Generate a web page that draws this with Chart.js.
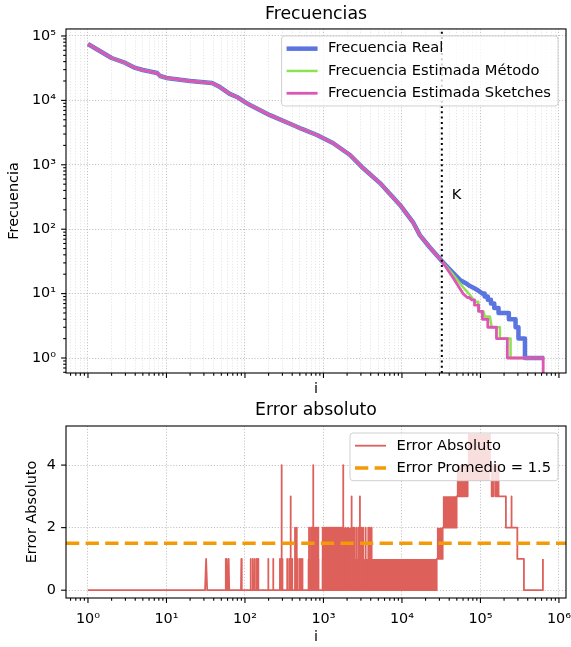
<!DOCTYPE html>
<html>
<head>
<meta charset="utf-8">
<title>Frecuencias / Error absoluto</title>
<script src="https://cdn.jsdelivr.net/npm/chart.js"></script>
<style>
  body { margin: 0; background: #fff; }
  .box { position: absolute; left: 0; width: 571px; }
</style>
</head>
<body>
<div class="box" style="top:0;height:400px"><canvas id="frecuencias" width="571" height="400"></canvas></div>
<div class="box" style="top:400px;height:247px"><canvas id="error" width="571" height="247"></canvas></div>
<script>
// axis ranges
const X_MIN = 0.525, X_MAX = 1.23e6;
const FREQ_MIN = 0.585, FREQ_MAX = 1.285e5;
const ERR_MIN = -0.25, ERR_MAX = 5.25;
const K = 32200;
const ERROR_MEAN = 1.5;

const decadeValues = [1, 10, 100, 1000, 10000, 100000, 1000000];
const decadeLabels = ['10⁰', '10¹', '10²', '10³', '10⁴', '10⁵', '10⁶'];
const errTickValues = [0, 2, 4];
const errTickLabels = ['0', '2', '4'];

// rank i / frequency, common to the three series up to K
const headI = [1, 2, 3, 4, 5, 7.6, 8.3, 10, 20, 38, 48, 64, 79, 100, 116, 208, 408, 532, 826, 1320, 2180, 3190, 5250, 9440, 13800, 16900, 22700, 32200];
const headF = [75000, 45500, 38100, 31900, 29600, 26600, 23900, 22300, 20000, 18600, 16100, 12600, 11300, 9400, 8500, 5900, 4150, 3600, 2900, 2180, 1420, 890, 520, 238, 129, 81, 52, 32];

// tails after K
const realTailI = [38000, 45000, 54800, 65000, 73500, 85000, 98600, 106000, 113000, 113000, 124000, 124000, 136000, 136000, 150000, 150000, 170000, 170000, 230000, 230000, 280000, 280000, 305000, 305000, 369000, 369000, 650000];
const realTailF = [25.9, 20.9, 16.3, 14.5, 13.1, 12, 10.7, 10, 10, 9, 9, 8, 8, 7, 7, 6, 6, 5, 5, 4, 4, 3, 3, 2, 2, 1, 1];
const metodoTailI = [37000, 45000, 54800, 64000, 73500, 85200, 93800, 93800, 109000, 114000, 132000, 139000, 177000, 177000, 242000, 242000, 650000];
const metodoTailF = [26, 19.5, 14.5, 11.5, 9.5, 7.5, 7.5, 5.3, 5.3, 4.4, 4.4, 3, 3, 2, 2, 1, 1];
const sketchTailI = [45000, 60000, 68000, 72000, 77000, 84000, 84000, 95000, 95000, 106000, 106000, 124000, 124000, 160000, 160000, 220000, 220000, 630000, 630000, 650000];
const sketchTailF = [17.5, 10, 8.7, 8.7, 8, 8, 6.6, 6.6, 5.3, 5.3, 4, 4, 3, 3, 2, 2, 1, 1, 0, 0];

// absolute error: isolated spikes (position, height)
const spikeI = [32, 57, 59, 62, 90, 118, 126, 133, 141, 147, 198, 229, 279, 293, 300, 345, 366, 382, 400, 434, 446, 457, 470, 500, 515, 540,
  655, 693, 705, 720, 741, 760, 790, 819, 840, 860, 977, 1000, 1030, 1077, 1100, 1130, 1160, 1187, 1210, 1240, 1283, 1300, 1330, 1374, 1420,
  1450, 1472, 1500, 1550, 1580, 1623, 1660, 1700, 1787, 1918, 2070, 2284,
  2400, 2500, 2650, 2810, 2915, 3050, 3215, 3450, 3724, 3900, 4110];
const spikeV = [1, 1, 1, 1, 1, 1, 1, 1, 1, 1, 1, 1, 1, 4, 1, 1, 1, 3, 1, 2, 1, 2, 1, 1, 1, 1,
  2, 2, 2, 2, 4, 2, 2, 2, 2, 2, 2, 2, 2, 2, 2, 2, 2, 2, 2, 2, 2, 2, 2, 2, 2,
  2, 2, 2, 2, 2, 2, 2, 2, 4, 2, 2, 3,
  2, 2, 2, 2, 3, 2, 2, 2, 2, 2, 2];
// regions where the error flips so fast that it reads as a solid band
const bandFrom = [625, 948, 1760, 27700, 33000, 49700, 68700];
const bandTo = [890, 27700, 2380, 33000, 49700, 68700, 132000];
const bandLow = [0, 0, 1, 1, 2, 3, 3.5];
const bandHigh = [1, 1, 2, 2, 3, 4, 5];
// stepped part at the end
const stepI = [27700, 27700, 33000, 33000, 49700, 49700, 68700, 68700, 132000, 132000, 132000, 139000, 139000, 146000, 146000, 155000, 155000, 163000, 163000, 170000, 170000, 211000, 211000, 247000, 247000, 250000, 250000, 295000, 295000, 358000, 358000, 625000, 625000];
const stepV = [0, 1, 1, 2, 2, 3, 3, 4, 4, 5, 4, 4, 3, 3, 4, 4, 3, 3, 4, 4, 3, 3, 2, 2, 3, 3, 2, 2, 1, 1, 0, 0, 1];

const BLUE = '#5a74e0', GREEN = '#8ee152', PINK = '#de56b4', RED = '#dd605a', ORANGE = '#f29b06';
const GRID_MAJOR = '#b0b0b0', GRID_MINOR = '#dddddd';
const LEGEND_FONT = '14.7px "DejaVu Sans"';

Chart.defaults.font.family = '"DejaVu Sans", sans-serif';
Chart.defaults.font.size = 14.4;
Chart.defaults.color = '#000';

const pts = (xs, ys) => xs.map((x, k) => ({ x, y: ys[k] }));
const logSafe = p => ({ x: p.x, y: p.y > 0 ? p.y : FREQ_MIN / 10 });

function logTicks(min, max) {
  const out = [];
  for (let e = -1; e <= 6; e++) {
    for (let m = 1; m <= 9; m++) {
      const v = m * Math.pow(10, e);
      if (v >= min && v <= max) out.push({ value: v, major: m === 1 });
    }
  }
  return out;
}
function decadeLabel(v) {
  const k = decadeValues.findIndex(d => Math.abs(d - v) < d * 1e-9);
  return k < 0 ? '' : decadeLabels[k];
}
// keep the plot area fixed, labels may overhang
function fixX(h) {
  return s => { s.height = h; s.paddingLeft = 0; s.paddingRight = 0; };
}
function fixY(s) { s.width = 66; s.paddingTop = 0; s.paddingBottom = 0; }

// ticks outside + the four spines
const frame = {
  id: 'frame',
  afterDraw(chart) {
    const { ctx, chartArea: a } = chart;
    ctx.save();
    ctx.strokeStyle = '#000';
    ctx.lineWidth = 1.1;
    const xs = chart.scales.x, ys = chart.scales.y;
    xs.ticks.forEach(t => {
      const p = xs.getPixelForValue(t.value);
      ctx.beginPath(); ctx.moveTo(p, a.bottom); ctx.lineTo(p, a.bottom + (t.major ? 4.9 : 2.8)); ctx.stroke();
    });
    ys.ticks.forEach(t => {
      const p = ys.getPixelForValue(t.value);
      ctx.beginPath(); ctx.moveTo(a.left, p); ctx.lineTo(a.left - (t.major ? 4.9 : 2.8), p); ctx.stroke();
    });
    ctx.strokeRect(a.left, a.top, a.right - a.left, a.bottom - a.top);
    ctx.restore();
  }
};

// matplotlib style boxed legend in the upper right corner
const boxLegend = {
  id: 'boxLegend',
  afterDatasetsDraw(chart) {
    const { ctx, chartArea: a } = chart;
    const items = chart.data.datasets.filter(d => d.inLegend);
    const note = chart.options.plugins.boxLegend;
    ctx.save();
    ctx.font = LEGEND_FONT;
    ctx.textBaseline = 'middle';
    if (note && note.text) {
      ctx.fillStyle = '#000';
      ctx.fillText(note.text, chart.scales.x.getPixelForValue(note.x) + 10, chart.scales.y.getPixelForValue(note.y));
    }
    const textW = Math.max(...items.map(d => ctx.measureText(d.label).width));
    const pad = 5, handle = 31, gap = 10.5, rowH = 22.3, first = 12.7;
    const w = pad + handle + gap + textW + 7;
    const h = first * 2 + rowH * (items.length - 1);
    const x0 = a.right - 8 - w, y0 = a.top + 7;
    ctx.beginPath();
    ctx.roundRect(x0, y0, w, h, 3);
    ctx.fillStyle = 'rgba(255,255,255,0.8)';
    ctx.fill();
    ctx.strokeStyle = '#d0d0d0';
    ctx.lineWidth = 1;
    ctx.stroke();
    items.forEach((d, k) => {
      const y = y0 + first + k * rowH;
      ctx.strokeStyle = d.borderColor;
      ctx.lineWidth = d.borderWidth;
      ctx.setLineDash(d.borderDash || []);
      ctx.beginPath(); ctx.moveTo(x0 + pad, y); ctx.lineTo(x0 + pad + handle, y); ctx.stroke();
      ctx.setLineDash([]);
      ctx.fillStyle = '#000';
      ctx.fillText(d.label, x0 + pad + handle + gap, y);
    });
    ctx.restore();
  }
};

function lineSet(label, data, color, width, order, extra) {
  return Object.assign({
    label, data, borderColor: color, borderWidth: width, order,
    pointRadius: 0, tension: 0, fill: false, borderJoinStyle: 'round', inLegend: true
  }, extra || {});
}

// ---------- top chart ----------
const head = pts(headI, headF);
new Chart(document.getElementById('frecuencias'), {
  type: 'line',
  data: {
    datasets: [
      lineSet('Frecuencia Real', head.concat(pts(realTailI, realTailF)), BLUE, 4.5, 3),
      lineSet('Frecuencia Estimada Método', head.concat(pts(metodoTailI, metodoTailF)), GREEN, 2.5, 2),
      lineSet('Frecuencia Estimada Sketches', head.concat(pts(sketchTailI, sketchTailF)).map(logSafe), PINK, 2.8, 1),
      lineSet('K', [{ x: K, y: FREQ_MIN }, { x: K, y: FREQ_MAX }], '#000', 2, 0, { borderDash: [2, 3.3], inLegend: false })
    ]
  },
  options: {
    responsive: false, animation: false,
    layout: { padding: { left: 0, right: 5, top: 0, bottom: 0 } },
    plugins: {
      legend: { display: false }, tooltip: { enabled: false },
      title: { display: true, text: 'Frecuencias', fullSize: false, font: { size: 17.3, weight: 'normal' }, padding: { top: 4.6, bottom: 3.6 } },
      boxLegend: { text: 'K', x: K, y: 340 }
    },
    scales: {
      x: {
        type: 'logarithmic', min: X_MIN, max: X_MAX,
        afterBuildTicks: s => { s.ticks = logTicks(X_MIN, X_MAX); },
        afterFit: fixX(27),
        ticks: { callback: () => '', autoSkip: false, maxRotation: 0 },
        grid: { drawTicks: false, lineWidth: 0.8, color: c => (c.tick && c.tick.major ? GRID_MAJOR : GRID_MINOR) },
        border: { display: false, dash: [1.1, 1.8] },
        title: { display: true, text: 'i', padding: { top: 0, bottom: 2 } }
      },
      y: {
        type: 'logarithmic', min: FREQ_MIN, max: FREQ_MAX,
        afterBuildTicks: s => { s.ticks = logTicks(FREQ_MIN, FREQ_MAX); },
        afterFit: fixY,
        ticks: { callback: (v, i, t) => (t[i].major ? decadeLabel(v) : ''), autoSkip: false, padding: 10 },
        grid: { drawTicks: false, lineWidth: 0.8, color: c => (c.tick && c.tick.major ? GRID_MAJOR : 'rgba(0,0,0,0)') },
        border: { display: false, dash: [1.1, 1.8] },
        title: { display: true, text: 'Frecuencia', padding: { top: 5.4, bottom: 0 } }
      }
    }
  },
  plugins: [boxLegend, frame]
});

// ---------- bottom chart ----------
const errPoints = [{ x: 1, y: 0 }];
spikeI.forEach((x, k) => {
  errPoints.push({ x: x - 1, y: 0 }, { x, y: spikeV[k] }, { x: x + 1, y: 0 });
});
pts(stepI, stepV).forEach(p => errPoints.push(p));

const bands = bandFrom.map((from, k) => ({
  label: 'band' + k,
  data: [{ x: from, y: bandHigh[k] }, { x: bandTo[k], y: bandHigh[k] }],
  borderWidth: 0, pointRadius: 0, tension: 0,
  backgroundColor: RED, fill: { value: bandLow[k] }, order: 5
}));

new Chart(document.getElementById('error'), {
  type: 'line',
  data: {
    datasets: [
      lineSet('Error Absoluto', errPoints, RED, 1.8, 2),
      lineSet('Error Promedio = ' + ERROR_MEAN, [{ x: X_MIN, y: ERROR_MEAN }, { x: X_MAX, y: ERROR_MEAN }], ORANGE, 3.5, 0, { borderDash: [13.3, 6.3] })
    ].concat(bands)
  },
  options: {
    responsive: false, animation: false,
    layout: { padding: { left: 0, right: 5, top: 0, bottom: 0 } },
    plugins: {
      legend: { display: false }, tooltip: { enabled: false },
      title: { display: true, text: 'Error absoluto', fullSize: false, font: { size: 17.3, weight: 'normal' }, padding: { top: 0.6, bottom: 4.64 } }
    },
    scales: {
      x: {
        type: 'logarithmic', min: X_MIN, max: X_MAX,
        afterBuildTicks: s => { s.ticks = logTicks(X_MIN, X_MAX); },
        afterFit: fixX(49),
        ticks: { callback: (v, i, t) => (t[i].major ? decadeLabel(v) : ''), autoSkip: false, maxRotation: 0, padding: 13 },
        grid: { drawTicks: false, lineWidth: 0.8, color: c => (c.tick && c.tick.major ? GRID_MAJOR : 'rgba(0,0,0,0)') },
        border: { display: false, dash: [1.1, 1.8] },
        title: { display: true, text: 'i', padding: { top: 0, bottom: 1.4 } }
      },
      y: {
        type: 'linear', min: ERR_MIN, max: ERR_MAX,
        afterBuildTicks: s => { s.ticks = errTickValues.map(v => ({ value: v, major: true })); },
        afterFit: fixY,
        ticks: { callback: v => errTickLabels[errTickValues.indexOf(v)], autoSkip: false, padding: 10 },
        grid: { drawTicks: false, lineWidth: 0.8, color: GRID_MAJOR },
        border: { display: false, dash: [1.1, 1.8] },
        title: { display: true, text: 'Error Absoluto', padding: { top: 23.4, bottom: 0 } }
      }
    }
  },
  plugins: [boxLegend, frame]
});
</script>
</body>
</html>
